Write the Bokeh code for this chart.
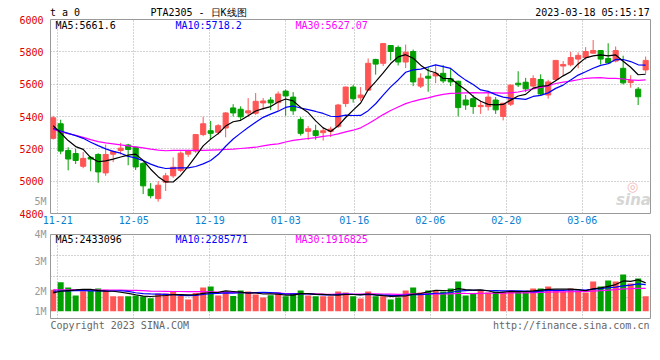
import numpy as np
import pandas as pd
from bokeh.plotting import figure
from bokeh.models import FixedTicker, Label, Range1d, LinearAxis
from bokeh.layouts import column
from bokeh.embed import file_html
from bokeh.resources import INLINE

# ---------------- data ----------------
# candle index -1 .. 78 (index 0 = 11-21)
opens = [5265, 5355, 5190, 5171, 5092, 5147, 5165, 5051, 5167, 5190,
         5224, 5210, 5110, 4951, 4892, 4994, 5033, 5067, 5167, 5186,
         5288, 5312, 5302, 5329, 5453, 5445, 5422, 5420, 5484, 5502,
         5486, 5557, 5520, 5382, 5308, 5312, 5300, 5308, 5339, 5480,
         5582, 5516, 5563, 5753, 5729, 5839, 5827, 5737, 5802, 5588,
         5649, 5651, 5667, 5633, 5618, 5502, 5510, 5461, 5461, 5502,
         5400, 5476, 5606, 5612, 5588, 5629, 5533, 5629, 5712, 5720,
         5755, 5765, 5792, 5808, 5759, 5743, 5698, 5610, 5569, 5688]
highs = [5404, 5380, 5210, 5200, 5180, 5155, 5173, 5226, 5190, 5237,
         5231, 5214, 5118, 4988, 5000, 5051, 5147, 5184, 5194, 5292,
         5398, 5373, 5353, 5427, 5476, 5463, 5514, 5545, 5514, 5520,
         5555, 5567, 5551, 5396, 5341, 5349, 5333, 5337, 5478, 5586,
         5596, 5582, 5759, 5757, 5851, 5839, 5839, 5845, 5814, 5667,
         5710, 5720, 5718, 5694, 5622, 5533, 5533, 5498, 5547, 5520,
         5484, 5598, 5680, 5639, 5655, 5661, 5627, 5747, 5743, 5800,
         5796, 5829, 5873, 5808, 5853, 5833, 5776, 5655, 5582, 5771]
lows = [5257, 5167, 5067, 5106, 5080, 5061, 4990, 5033, 5118, 5165,
        5098, 5069, 4920, 4894, 4873, 4939, 5020, 5057, 5149, 5175,
        5278, 5257, 5288, 5271, 5400, 5378, 5398, 5410, 5443, 5439,
        5437, 5404, 5410, 5282, 5255, 5257, 5251, 5273, 5329, 5459,
        5486, 5496, 5561, 5659, 5712, 5747, 5716, 5700, 5588, 5576,
        5553, 5606, 5606, 5588, 5400, 5441, 5416, 5416, 5437, 5416,
        5376, 5465, 5582, 5551, 5578, 5527, 5510, 5622, 5653, 5710,
        5698, 5751, 5788, 5722, 5727, 5735, 5598, 5578, 5471, 5665]
closes = [5392, 5186, 5137, 5128, 5141, 5137, 5057, 5165, 5184, 5204,
          5196, 5088, 4971, 4910, 4975, 5033, 5086, 5173, 5188, 5288,
          5355, 5296, 5343, 5422, 5422, 5398, 5435, 5494, 5496, 5484,
          5539, 5527, 5435, 5296, 5324, 5282, 5312, 5322, 5471, 5582,
          5510, 5533, 5729, 5724, 5851, 5802, 5737, 5798, 5614, 5637,
          5637, 5667, 5620, 5614, 5455, 5471, 5461, 5469, 5520, 5441,
          5482, 5594, 5596, 5571, 5635, 5539, 5614, 5747, 5722, 5765,
          5778, 5802, 5808, 5755, 5731, 5808, 5608, 5622, 5522, 5747]
volumes_m = [1.83, 2.49, 2.03, 1.34, 1.71, 1.77, 1.94, 1.83, 1.29, 1.29,
             1.29, 1.34, 1.26, 1.11, 1.51, 1.51, 1.69, 1.31, 1.00, 1.57,
             2.03, 2.11, 1.34, 1.66, 1.31, 1.77, 1.69, 1.43, 1.17, 1.37,
             1.60, 1.29, 1.49, 1.77, 1.34, 1.29, 1.29, 1.29, 1.69, 1.60,
             1.29, 1.09, 1.69, 1.29, 1.29, 1.00, 1.17, 1.77, 2.03, 1.60,
             1.77, 1.77, 1.69, 1.94, 2.54, 1.34, 1.51, 1.77, 1.60, 1.69,
             1.63, 1.77, 1.69, 1.69, 1.94, 1.94, 2.11, 1.77, 1.69, 1.94,
             1.77, 1.60, 2.54, 2.11, 2.63, 2.54, 3.14, 2.37, 2.80, 1.29]

# moving-average values at the left edge, where the window reaches before the data
ma5_head = [5343, 5298, 5251, 5214]
ma10_head = [5326, 5310, 5296, 5282, 5265, 5241, 5220, 5200, 5184]
ma30_head = [5320, 5306, 5294, 5284, 5271, 5257, 5245, 5237, 5231, 5224,
             5218, 5212, 5206, 5198, 5192, 5188, 5190, 5190, 5190, 5190,
             5190, 5192, 5194, 5196, 5198, 5202, 5206, 5210, 5218]
vma5_head = [1.57, 1.71, 1.77, 1.82]
vma10_head = [1.71, 1.73, 1.75, 1.76, 1.76, 1.75, 1.74, 1.73, 1.73]
vma30_head = [1.83, 1.83, 1.83, 1.82, 1.82, 1.82, 1.81, 1.81, 1.80, 1.80,
              1.79, 1.78, 1.77, 1.72, 1.71, 1.70, 1.69, 1.69, 1.68, 1.68,
              1.67, 1.66, 1.63, 1.62, 1.61, 1.60, 1.59, 1.58, 1.58]

tick_days = [0, 10, 20, 30, 39, 49, 59, 69]
tick_labels = ["11-21", "12-05", "12-19", "01-03", "01-16", "02-06", "02-20", "03-06"]
price_ticks = [4800, 5000, 5200, 5400, 5600, 5800, 6000]
vol_tick_labels = ["4M", "3M", "2M", "1M"]

legend_price = ["MA5:5661.6", "MA10:5718.2", "MA30:5627.07"]
legend_vol = ["MA5:2433096", "MA10:2285771", "MA30:1916825"]
header_texts = ["t a 0", "PTA2305 - 日K线图", "2023-03-18 05:15:17"]
footer_texts = ["Copyright 2023 SINA.COM", "http://finance.sina.com.cn"]

# ---------------- derived ----------------
idx = np.arange(-1, -1 + len(closes))
o = np.array(opens, float); c = np.array(closes, float)
vol = np.array(volumes_m) * 1e6


def moving(values, n, head):
    s = pd.Series(values, dtype=float).rolling(n).mean().to_numpy()
    s[:len(head)] = head
    return s


ma5 = moving(c, 5, ma5_head)
ma10 = moving(c, 10, ma10_head)
ma30 = moving(c, 30, ma30_head)
vma5 = moving(vol, 5, np.array(vma5_head) * 1e6)
vma10 = moving(vol, 10, np.array(vma10_head) * 1e6)
vma30 = moving(vol, 30, np.array(vma30_head) * 1e6)

RED, GREEN = "#ff5555", "#00a000"
colors = [RED if cc >= oo else GREEN for oo, cc in zip(o, c)]

# pixel helpers (page coordinates) used only to place texts
XS, X0 = 7.5, 60.17
def xd(px):
    return (px - X0) / XS
def yd(py):
    return 6000 - (py - 19) * 1200 / 194
def vd(py):
    return (310.7 - py) * 1e6 / 11.67

# Sina draws its date grid at a slightly wider pitch than the candles
grid_x = [(d * 7.6 - 2.87) / XS for d in tick_days]

MONO = "DejaVu Sans Mono"
GRID = "#a8a8a8"
BORDER = "#999999"


def plain_axis(ax, color, font=MONO, size="10px", standoff=3, style="normal"):
    ax.axis_line_color = None
    ax.major_tick_line_color = None
    ax.minor_tick_line_color = None
    ax.major_tick_out = 0
    ax.major_tick_in = 0
    ax.minor_tick_out = 0
    ax.minor_tick_in = 0
    ax.major_label_text_font = font
    ax.major_label_text_font_size = size
    ax.major_label_text_color = color
    ax.major_label_text_font_style = style
    ax.major_label_standoff = standoff


def style_grid(g):
    g.grid_line_color = GRID
    g.grid_line_dash = "1 2"
    g.grid_line_width = 1


def lab(fig, x, y, text, color="black", size="10px", font=MONO, align="left", style="normal"):
    fig.add_layout(Label(x=x, y=y, text=text, text_color=color, text_font=font,
                         text_font_size=size, text_align=align, text_baseline="middle",
                         text_font_style=style))


# ---------------- price panel ----------------
Y_BOTTOM, Y_TOP = 4800, 6000
p = figure(frame_width=600, frame_height=194,
           x_range=Range1d(xd(50), xd(650)), y_range=Range1d(Y_BOTTOM, Y_TOP),
           output_backend="svg", toolbar_location=None, title=None,
           min_border_left=50, min_border_right=8, min_border_top=19, min_border_bottom=14)
p.outline_line_color = BORDER
p.outline_line_width = 1
p.background_fill_color = "white"
p.border_fill_color = "white"

# date axis
p.xaxis.ticker = FixedTicker(ticks=grid_x)
p.xaxis.major_label_overrides = {g: t for g, t in zip(grid_x, tick_labels)}
plain_axis(p.xaxis[0], "#0a80d0", standoff=2)

# inner left axis: the grey volume-scale mark that Sina prints inside the price panel
m5 = yd(201)
p.yaxis.ticker = FixedTicker(ticks=[m5])
p.yaxis.major_label_overrides = {m5: "5M"}
plain_axis(p.yaxis[0], "#999999", standoff=4)
# outer left axis: the red price scale, pulled back to the panel edge
price_axis = LinearAxis(ticker=FixedTicker(ticks=price_ticks))
plain_axis(price_axis, "#e00000", standoff=-12)
p.add_layout(price_axis, "left")

# header line as an axis above the panel
head_x = [xd(64.5), xd(198), xd(592)]
head_axis = LinearAxis(ticker=FixedTicker(ticks=head_x),
                       major_label_overrides={hx: t for hx, t in zip(head_x, header_texts)})
plain_axis(head_axis, "black", standoff=2)
p.add_layout(head_axis, "above")

p.ygrid.ticker = FixedTicker(ticks=price_ticks)
style_grid(p.xgrid[0]); style_grid(p.ygrid[0])

p.segment(x0=idx, y0=lows, x1=idx, y1=highs, line_color=colors, line_width=1)
p.vbar(x=idx, width=0.68, top=np.maximum(o, c), bottom=np.minimum(o, c),
       fill_color=colors, line_color=colors, line_width=1)
p.line(idx, ma30, line_color="#ff00ff", line_width=1.2)
p.line(idx, ma10, line_color="#0000ff", line_width=1.2)
p.line(idx, ma5, line_color="black", line_width=1.2)

for txt, px, col in zip(legend_price, (55, 175, 295), ("black", "#0000ff", "#ff00ff")):
    lab(p, xd(px), yd(24.5), txt, col)
lab(p, xd(632), yd(186), "◎", "#f2b8b8", "13px", "DejaVu Sans", "center")
lab(p, xd(633), yd(199), "sina", "#d6d6d6", "15px", "DejaVu Sans", "center", "bold italic")

# ---------------- volume panel ----------------
V_LOW, V_HIGH = vd(318), vd(234)
v = figure(frame_width=600, frame_height=84,
           x_range=p.x_range, y_range=Range1d(V_LOW, V_HIGH),
           output_backend="svg", toolbar_location=None, title=None,
           min_border_left=50, min_border_right=8, min_border_top=7, min_border_bottom=14)
v.outline_line_color = BORDER
v.outline_line_width = 1
v.background_fill_color = "white"
v.border_fill_color = "white"

# Sina's volume labels sit at their own spots; the top one on the panel's top edge
vol_ticks = [V_HIGH, vd(261), vd(290.7), vd(310.7)]
v.yaxis.ticker = FixedTicker(ticks=vol_ticks)
v.yaxis.major_label_overrides = {t: s for t, s in zip(vol_ticks, vol_tick_labels)}
plain_axis(v.yaxis[0], "#999999", standoff=4)

foot_x = [xd(119.3), xd(570.7)]
v.xaxis.ticker = FixedTicker(ticks=foot_x)
v.xaxis.major_label_overrides = {fx: t for fx, t in zip(foot_x, footer_texts)}
plain_axis(v.xaxis[0], "#666666", standoff=1)

v.xgrid.ticker = FixedTicker(ticks=grid_x)
v.ygrid.ticker = FixedTicker(ticks=[vd(255.1), vd(276.2), vd(297.2)])
style_grid(v.xgrid[0]); style_grid(v.ygrid[0])

v.vbar(x=idx, width=0.8, top=vol, bottom=0, fill_color=colors, line_color=None)
v.line(idx, vma30, line_color="#ff00ff", line_width=1.2)
v.line(idx, vma10, line_color="#0000ff", line_width=1.2)
v.line(idx, vma5, line_color="black", line_width=1.2)

for txt, px, col in zip(legend_vol, (55, 175, 295), ("black", "#0000ff", "#ff00ff")):
    lab(v, xd(px), vd(238.7), txt, col)

layout = column(p, v, spacing=0)
open("out.html", "w").write(file_html(layout, INLINE))
